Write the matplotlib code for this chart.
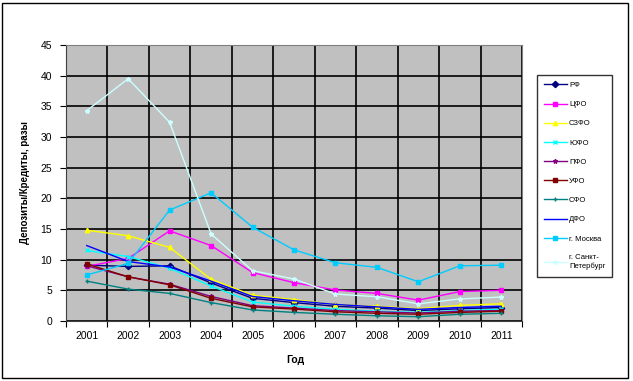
import matplotlib
matplotlib.use("Agg")
import matplotlib.pyplot as plt
from matplotlib.patches import Rectangle
import numpy as np

plt.rcParams['font.family'] = ['Liberation Sans', 'DejaVu Sans']

years = ['2001', '2002', '2003', '2004', '2005', '2006', '2007', '2008', '2009', '2010', '2011']

rf = [9.1, 8.9, 9.0, 6.2, 3.7, 3.0, 2.4, 2.1, 1.7, 2.0, 2.2]
cfo = [8.9, 10.2, 14.7, 12.3, 7.9, 6.25, 5.05, 4.5, 3.4, 4.8, 5.0]
szfo = [14.8, 13.9, 12.0, 6.8, 4.2, 3.5, 2.65, 2.4, 2.0, 2.55, 2.8]
yufo = [11.5, 10.5, 8.6, 5.7, 3.1, 2.4, 1.9, 1.6, 1.4, 1.7, 1.9]
pfo = [9.0, 7.2, 6.0, 4.0, 2.5, 2.1, 1.7, 1.5, 1.3, 1.6, 1.7]
ufo = [9.3, 7.2, 5.9, 3.7, 2.3, 1.95, 1.5, 1.25, 1.1, 1.4, 1.6]
sfo = [6.5, 5.2, 4.5, 3.0, 1.8, 1.4, 1.1, 0.85, 0.7, 1.1, 1.25]
dfo = [12.3, 9.7, 8.8, 6.5, 4.0, 3.3, 2.7, 2.3, 1.9, 2.2, 2.4]
moscow = [7.5, 9.4, 18.1, 20.9, 15.3, 11.6, 9.5, 8.75, 6.4, 9.0, 9.1]
spb = [34.3, 39.5, 32.4, 14.2, 8.2, 6.85, 4.4, 3.95, 2.8, 3.6, 3.9]

series = [
    ('РФ', rf, '#000080', 'D'),
    ('ЦФО', cfo, '#FF00FF', 's'),
    ('СЗФО', szfo, '#FFFF00', '^'),
    ('ЮФО', yufo, '#00FFFF', 'x'),
    ('ПФО', pfo, '#800080', '*'),
    ('УФО', ufo, '#800000', 's'),
    ('СФО', sfo, '#008080', '+'),
    ('ДФО', dfo, '#0000FF', None),
    ('г. Москва', moscow, '#00CCFF', 's'),
    ('г. Санкт-\nПетербург', spb, '#CCFFFF', '*'),
]

W, H = 633, 381
fig = plt.figure(figsize=(W / 100, H / 100), dpi=100)
fig.patch.set_facecolor('white')
ax = fig.add_axes([66 / W, 1 - 321 / H, (522 - 66) / W, (321 - 45) / H])
ax.set_facecolor('#C0C0C0')

x = np.arange(1, len(years) + 1)
for label, vals, color, marker in series:
    ax.plot(x, vals, color=color, lw=1.0, marker=marker, markersize=3.2,
            markeredgewidth=1.0, label=label)

ax.set_xlim(0.5, len(years) + 0.5)
ax.set_ylim(0, 45)
ax.set_yticks(np.arange(0, 46, 5))
ax.set_xticks(np.arange(0.5, len(years) + 1, 1))
ax.set_xticklabels([])
ax.set_xticks(x, minor=True)
ax.set_xticklabels(years, minor=True)
ax.tick_params(axis='x', which='minor', length=0, labelsize=7.5, pad=7)
ax.tick_params(axis='x', which='major', length=4, direction='out')
ax.tick_params(axis='y', length=4, direction='out', labelsize=7.5, pad=6)
ax.grid(True, which='major', color='black', lw=1.2)
ax.set_axisbelow(True)
for side in ['top', 'right']:
    ax.spines[side].set_color('#808080')
for side in ['left', 'bottom']:
    ax.spines[side].set_color('#404040')

fig.text(25 / W, 1 - 183 / H, 'Депозиты/Кредиты, разы', rotation=90,
         ha='center', va='center', fontsize=7, fontweight='bold')
fig.text(295 / W, 1 - 360 / H, 'Год', ha='center', va='center',
         fontsize=7.5, fontweight='bold')

leg = fig.legend(loc='upper left', bbox_to_anchor=(533 / W, 1 - 71 / H),
                 fontsize=5.5, frameon=True, fancybox=False, edgecolor='black',
                 handlelength=3.0, labelspacing=1.55, borderpad=0.9,
                 handletextpad=0.3)
leg.get_frame().set_linewidth(1.0)

fig.patches.append(Rectangle((2 / W, 3 / H), (628 - 2) / W, (378 - 3) / H,
                             transform=fig.transFigure, fill=False,
                             edgecolor='black', lw=1.0))

fig.savefig('out.png', dpi=100)
